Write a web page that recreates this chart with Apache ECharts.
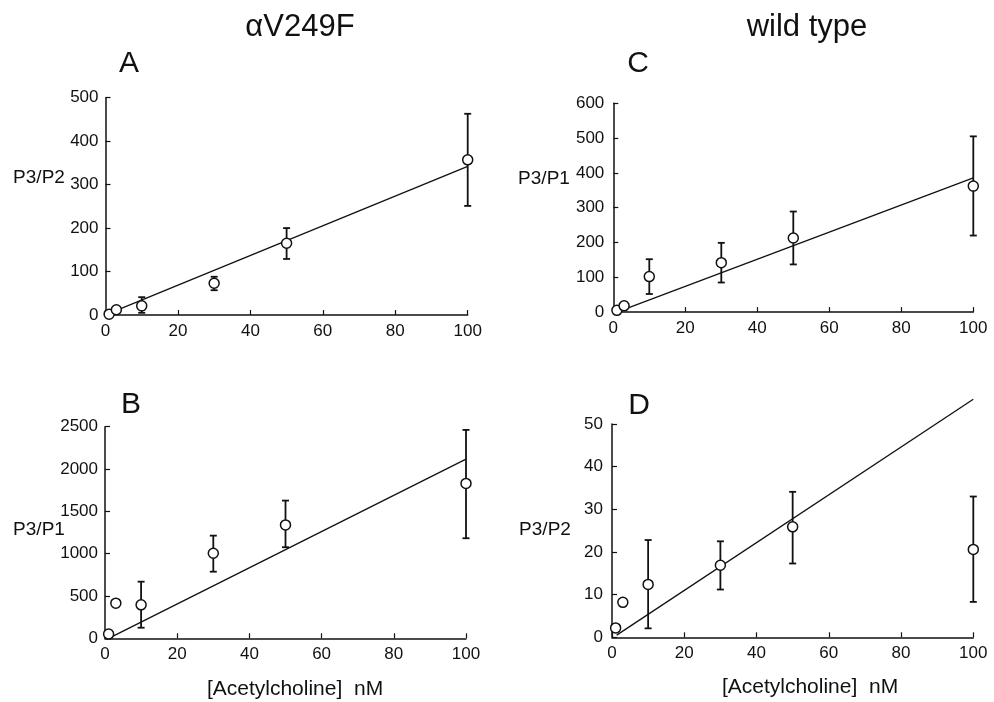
<!DOCTYPE html>
<html>
<head>
<meta charset="utf-8">
<script src="https://cdn.jsdelivr.net/npm/echarts@6/dist/echarts.min.js"></script>
<style>
html,body{margin:0;padding:0;background:#fff;}
#chart{width:994px;height:702px;}
</style>
</head>
<body>
<div id="chart"></div>
<script>
// ---- Data ----
const conc = [1, 3, 10, 30, 50, 100];           // [Acetylcholine] nM
const xTicks = [0, 20, 40, 60, 80, 100];

// Panel A: αV249F, P3/P2
const meanA = [2, 12, 21, 73, 165, 357];
const lowA  = [null, null, 5, 57, 129, 251];
const highA = [null, null, 41, 88, 200, 463];
const fitA  = [[0.5, 2], [100, 342]];

// Panel B: αV249F, P3/P1
const meanB = [50, 415, 395, 1005, 1340, 1830];
const lowB  = [null, null, 125, 787, 1076, 1182];
const highB = [null, null, 669, 1213, 1627, 2462];
const fitB  = [[1, 0], [100, 2116]];

// Panel C: wild type, P3/P1
const meanC = [5, 18, 102, 142, 213, 362];
const lowC  = [null, null, 52, 85, 137, 220];
const highC = [null, null, 152, 199, 289, 505];
const fitC  = [[1, 0], [100, 386]];

// Panel D: wild type, P3/P2
const meanD = [2.2, 8.2, 12.4, 16.9, 25.9, 20.6];
const lowD  = [null, null, 2.1, 11.2, 17.3, 8.3];
const highD = [null, null, 22.8, 22.5, 34.1, 33.0];
const fitD  = [[1.3, 0.5], [100, 55.8]];

// y-axis ranges
const yMaxA = 500, yStepA = 100;
const yMaxB = 2500, yStepB = 500;
const yMaxC = 600, yStepC = 100;
const yMaxD = 50, yStepD = 10;

// ---- Chart ----
const FONT = '"Liberation Sans", Arial, Helvetica, sans-serif';
const chart = echarts.init(document.getElementById('chart'), null, {renderer: 'canvas'});

const grids = [
  {left: 105.5, top: 97.7, width: 362.2, height: 217.3},   // A
  {left: 105,   top: 426.7, width: 361,  height: 211.6},   // B
  {left: 613.3, top: 103.3, width: 360,  height: 208.8},   // C
  {left: 612,   top: 424,   width: 361.3, height: 213.3}   // D
];

function xAxisDef(i) {
  return {
    gridIndex: i, type: 'value', min: 0, max: 100, interval: 20,
    axisLine: {show: true, onZero: false, lineStyle: {color: '#111', width: 1.5}},
    axisTick: {show: true, inside: true, length: 5, lineStyle: {color: '#111', width: 1.2}},
    axisLabel: {color: '#111', fontSize: 17, fontFamily: FONT, margin: 8, formatter: v => String(v)},
    splitLine: {show: false}
  };
}
function yAxisDef(i, max, step, margin) {
  return {
    gridIndex: i, type: 'value', min: 0, max: max, interval: step,
    axisLine: {show: true, onZero: false, lineStyle: {color: '#111', width: 1.5}},
    axisTick: {show: true, inside: true, length: 5, lineStyle: {color: '#111', width: 1.2}},
    axisLabel: {color: '#111', fontSize: 17, fontFamily: FONT, margin: margin, formatter: v => String(v)},
    splitLine: {show: false}
  };
}

function errData(low, high) {
  const out = [];
  for (let i = 0; i < conc.length; i++) {
    if (low[i] != null && high[i] != null) out.push([conc[i], low[i], high[i]]);
  }
  return out;
}

function errSeries(i, low, high) {
  return {
    type: 'custom', xAxisIndex: i, yAxisIndex: i, z: 3,
    data: errData(low, high),
    renderItem: function (params, api) {
      const x = api.value(0);
      const pLo = api.coord([x, api.value(1)]);
      const pHi = api.coord([x, api.value(2)]);
      const cap = 3.5;
      const style = {stroke: '#111', lineWidth: 1.8};
      return {
        type: 'group',
        children: [
          {type: 'line', shape: {x1: pLo[0], y1: pLo[1], x2: pHi[0], y2: pHi[1]}, style: style},
          {type: 'line', shape: {x1: pHi[0] - cap, y1: pHi[1], x2: pHi[0] + cap, y2: pHi[1]}, style: style},
          {type: 'line', shape: {x1: pLo[0] - cap, y1: pLo[1], x2: pLo[0] + cap, y2: pLo[1]}, style: style}
        ]
      };
    }
  };
}

function pointSeries(i, mean) {
  return {
    type: 'scatter', xAxisIndex: i, yAxisIndex: i, z: 5,
    data: conc.map((c, k) => [c, mean[k]]),
    symbol: 'circle', symbolSize: 10,
    itemStyle: {color: '#fff', borderColor: '#111', borderWidth: 1.5, opacity: 1},
    silent: true
  };
}

function fitSeries(i, fit) {
  return {
    type: 'line', xAxisIndex: i, yAxisIndex: i, z: 2,
    data: fit, showSymbol: false, symbol: 'none', clip: false,
    lineStyle: {color: '#111', width: 1.3}, silent: true
  };
}

function txt(x, y, text, size) {
  return {
    type: 'text', x: x, y: y,
    style: {text: text, fill: '#111', font: size + 'px ' + FONT, textAlign: 'center', textVerticalAlign: 'middle'}
  };
}

const option = {
  backgroundColor: '#fff',
  animation: false,
  grid: grids,
  xAxis: [xAxisDef(0), xAxisDef(1), xAxisDef(2), xAxisDef(3)],
  yAxis: [
    yAxisDef(0, yMaxA, yStepA, 7),
    yAxisDef(1, yMaxB, yStepB, 7),
    yAxisDef(2, yMaxC, yStepC, 9),
    yAxisDef(3, yMaxD, yStepD, 9)
  ],
  series: [
    fitSeries(0, fitA), errSeries(0, lowA, highA), pointSeries(0, meanA),
    fitSeries(1, fitB), errSeries(1, lowB, highB), pointSeries(1, meanB),
    fitSeries(2, fitC), errSeries(2, lowC, highC), pointSeries(2, meanC),
    fitSeries(3, fitD), errSeries(3, lowD, highD), pointSeries(3, meanD)
  ],
  graphic: [
    txt(300, 27, 'αV249F', 31),
    txt(807, 27, 'wild type', 31),
    txt(129, 64, 'A', 30),
    txt(131, 405, 'B', 30),
    txt(638, 64, 'C', 30),
    txt(639, 406, 'D', 30),
    txt(39, 178, 'P3/P2', 19),
    txt(39, 530, 'P3/P1', 19),
    txt(544, 179, 'P3/P1', 19),
    txt(545, 530, 'P3/P2', 19),
    txt(295, 689, '[Acetylcholine]  nM', 21),
    txt(810, 687, '[Acetylcholine]  nM', 21)
  ]
};
chart.setOption(option);
</script>
</body>
</html>
